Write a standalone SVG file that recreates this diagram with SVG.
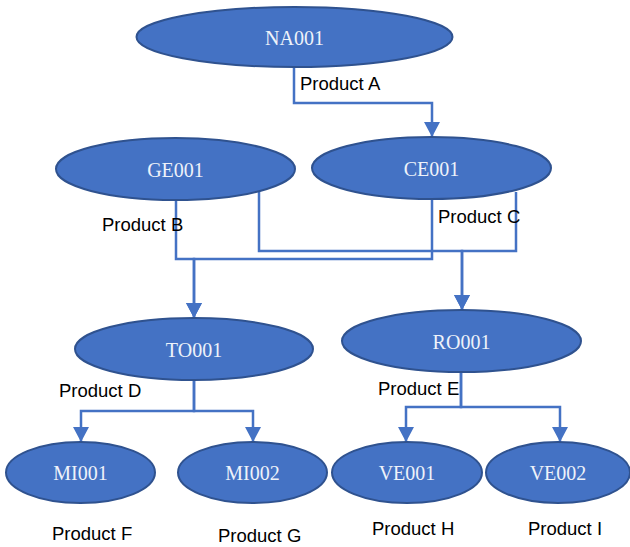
<svg xmlns="http://www.w3.org/2000/svg" width="630" height="547" viewBox="0 0 630 547">
<style>
.node ellipse{fill:#4472C4;stroke:#2F528F;stroke-width:2}
.node text{font-family:"Liberation Serif","Times New Roman",serif;font-size:20px;fill:#EEF2FA;text-anchor:middle}
.conn path{fill:none;stroke:#4472C4;stroke-width:2.5;marker-end:url(#arr)}
.lbl{font-family:"Liberation Sans",Arial,sans-serif;font-size:18.5px;fill:#000}
</style>
<defs>
<marker id="arr" markerUnits="userSpaceOnUse" viewBox="0 0 15 16" refX="15" refY="8" markerWidth="15" markerHeight="16" orient="auto">
<path d="M0,0 L15,8 L0,16 z" fill="#4472C4"/>
</marker>
</defs>
<rect width="630" height="547" fill="#fff"/>
<g class="conn" id="connectors">
<path d="M294,67 V103 H432 V137"/>
<path d="M176,200 V259 H194 V318"/>
<path d="M432,199 V259 H194 V318"/>
<path d="M259,192 V251 H462 V310"/>
<path d="M516,192 V251 H462 V310"/>
<path d="M194,380 V411 H81 V442"/>
<path d="M194,380 V411 H253 V442"/>
<path d="M461,372 V407 H406 V442"/>
<path d="M461,372 V407 H560 V442"/>
</g>
<g class="node" id="NA001"><ellipse cx="294.5" cy="37" rx="158" ry="30"/><text x="294.5" y="45">NA001</text></g>
<g class="node" id="GE001"><ellipse cx="175.5" cy="169" rx="119.5" ry="31"/><text x="175.5" y="177">GE001</text></g>
<g class="node" id="CE001"><ellipse cx="431.5" cy="168" rx="119.5" ry="31"/><text x="431.5" y="176">CE001</text></g>
<g class="node" id="TO001"><ellipse cx="194" cy="349" rx="119" ry="31"/><text x="194" y="357">TO001</text></g>
<g class="node" id="RO001"><ellipse cx="461.5" cy="341" rx="119.5" ry="31"/><text x="461.5" y="349">RO001</text></g>
<g class="node" id="MI001"><ellipse cx="80.5" cy="472.5" rx="74.5" ry="30.5"/><text x="80.5" y="480">MI001</text></g>
<g class="node" id="MI002"><ellipse cx="252.5" cy="472.5" rx="74.5" ry="30.5"/><text x="252.5" y="480">MI002</text></g>
<g class="node" id="VE001"><ellipse cx="407" cy="472.5" rx="75" ry="30.5"/><text x="407" y="480">VE001</text></g>
<g class="node" id="VE002"><ellipse cx="558" cy="472.5" rx="72" ry="30.5"/><text x="558" y="480">VE002</text></g>
<g id="labels">
<text class="lbl" x="300" y="90">Product A</text>
<text class="lbl" x="102" y="231">Product B</text>
<text class="lbl" x="438" y="223">Product C</text>
<text class="lbl" x="59" y="397">Product D</text>
<text class="lbl" x="378" y="395">Product E</text>
<text class="lbl" x="52" y="540">Product F</text>
<text class="lbl" x="218" y="542">Product G</text>
<text class="lbl" x="372" y="535">Product H</text>
<text class="lbl" x="528" y="535">Product I</text>
</g>
</svg>
